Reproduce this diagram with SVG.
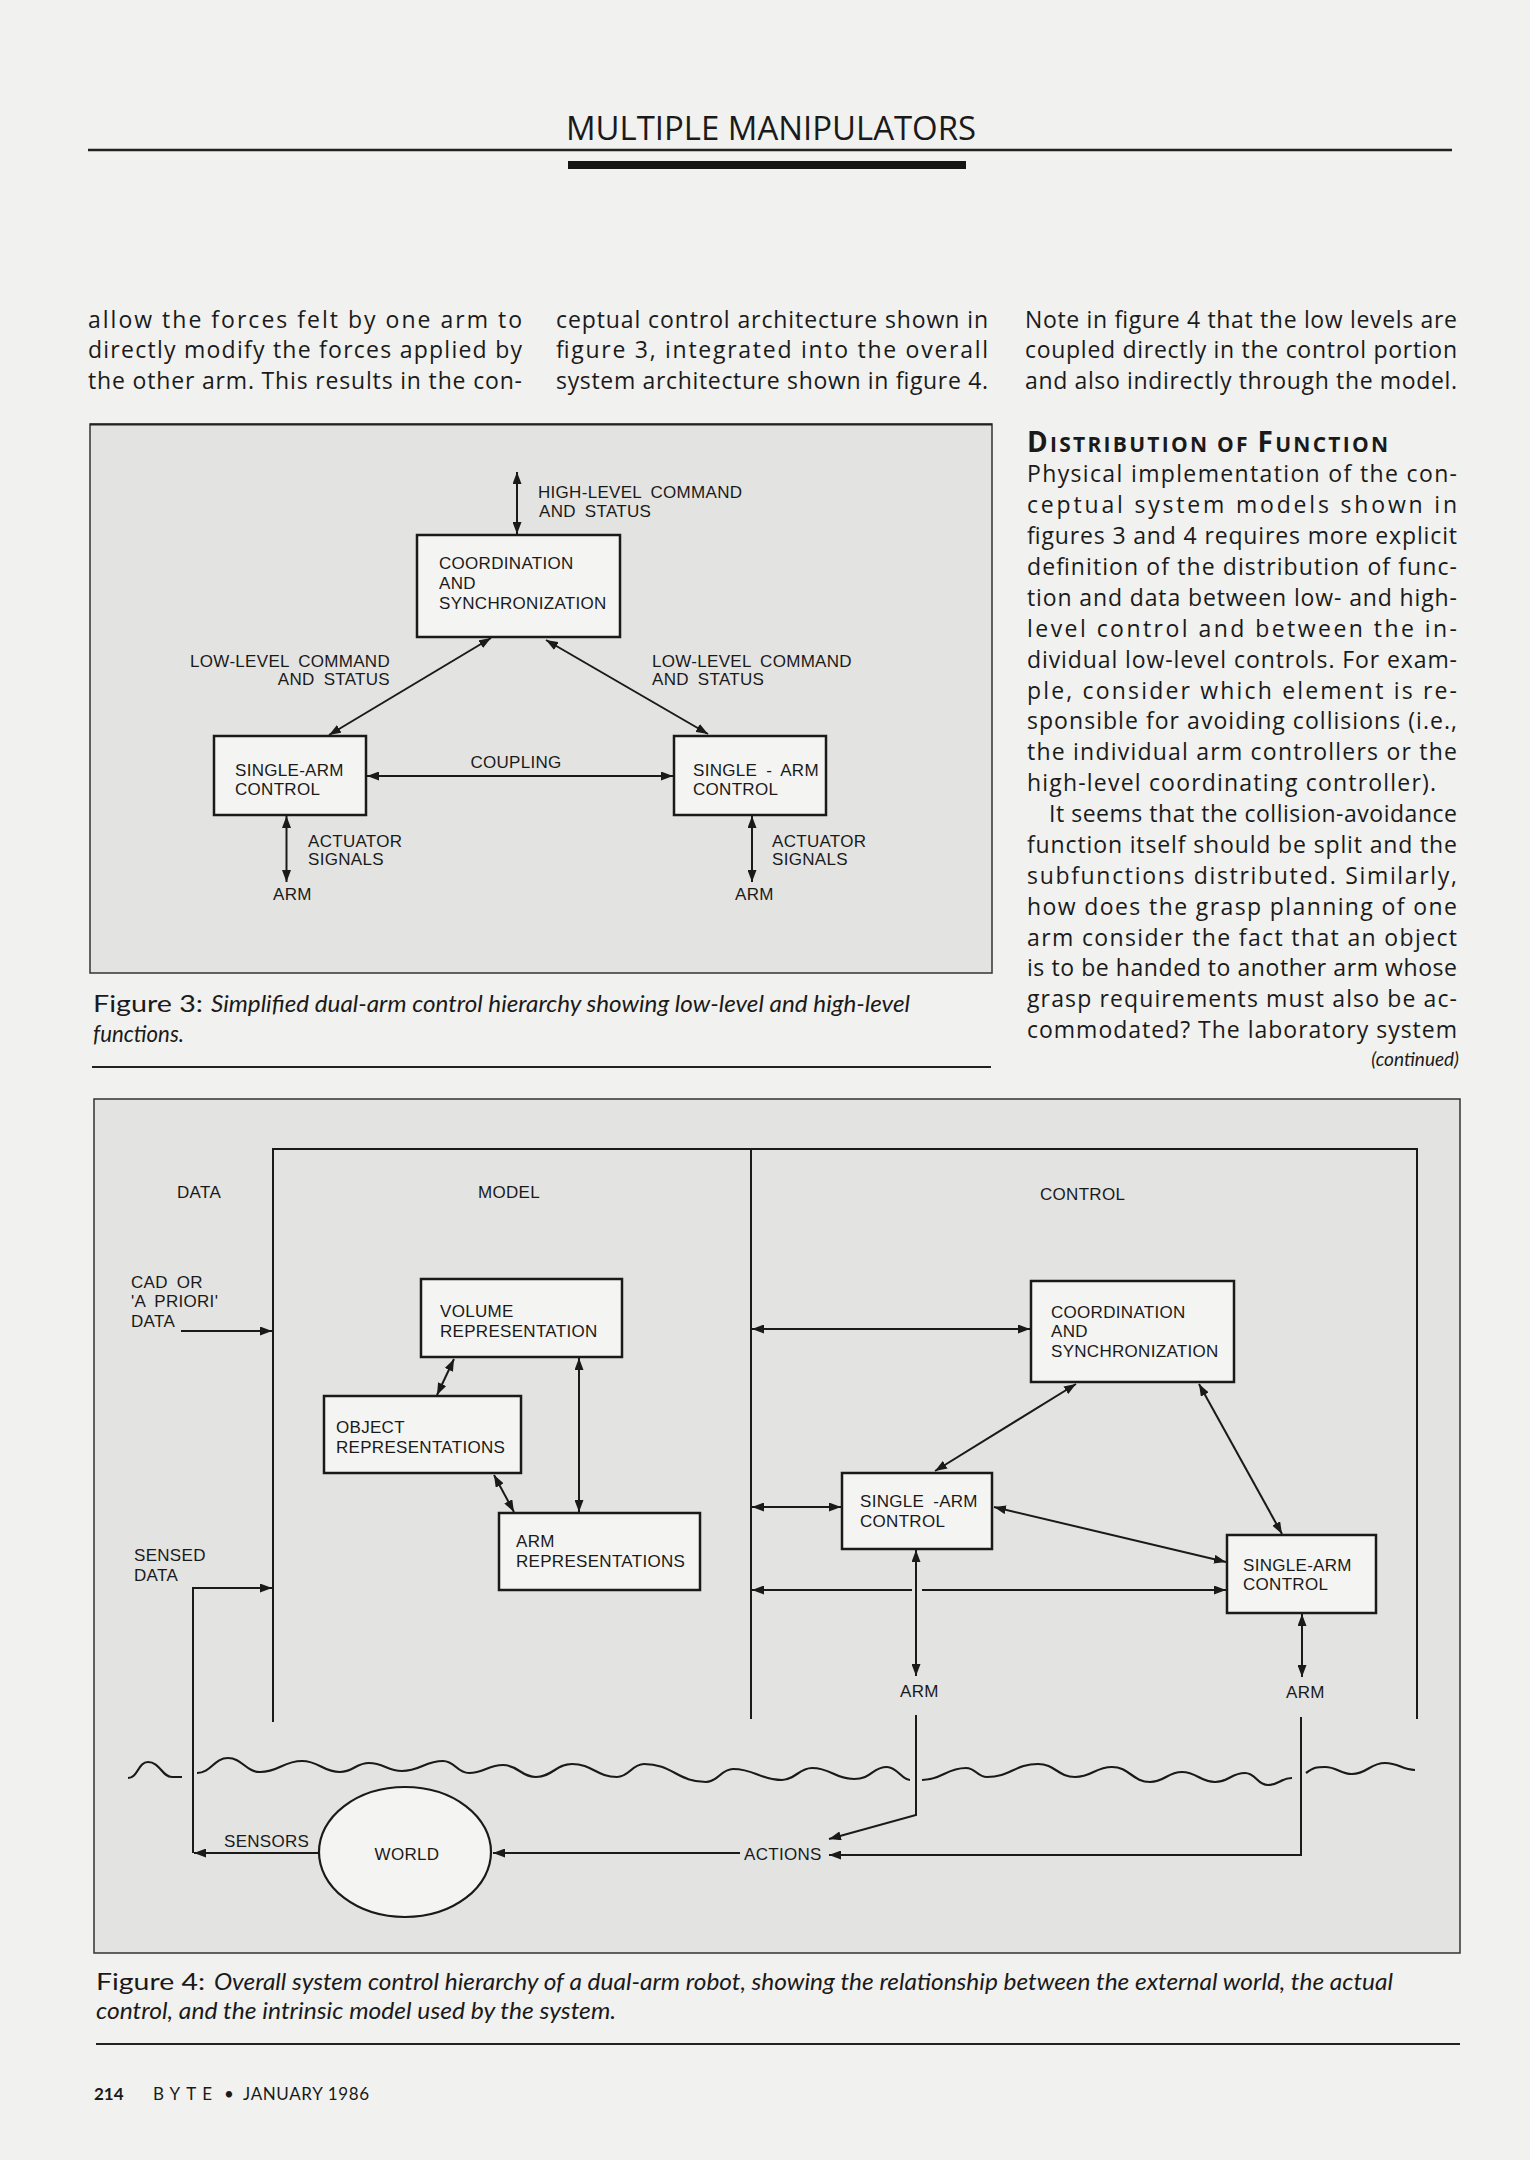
<svg xmlns="http://www.w3.org/2000/svg" width="1530" height="2160" viewBox="0 0 1530 2160">
<defs>
<marker id="ah" viewBox="0 0 12 9" refX="12" refY="4.5" markerWidth="12" markerHeight="9" markerUnits="userSpaceOnUse" orient="auto-start-reverse"><path d="M0,0 L12,4.5 L0,9 z" fill="#1a1a1a"/></marker>
</defs>
<style>
.body{font-family:"Open Sans","Liberation Sans",sans-serif;font-size:23px;fill:#1a1a1a}
.head{font-family:"Open Sans","Liberation Sans",sans-serif;font-weight:bold;fill:#1a1a1a}
.capr{font-family:Lato,"Open Sans",sans-serif;font-size:23px;fill:#1a1a1a}
.capi{font-family:Lato,"Open Sans",sans-serif;font-size:23px;font-style:italic;fill:#1a1a1a}
.foot{font-family:Lato,"Open Sans",sans-serif;font-size:17px;fill:#1a1a1a}
.lbl{font-family:"Liberation Sans",Arial,sans-serif;font-size:17px;letter-spacing:0.3px;word-spacing:4px;fill:#1a1a1a}
.fig{fill:#e3e3e1;stroke:#333;stroke-width:1.5}
.box{fill:#f4f4f2;stroke:#1a1a1a;stroke-width:2.5}
.ln{fill:none;stroke:#1a1a1a;stroke-width:2}
.da{fill:none;stroke:#1a1a1a;stroke-width:2;marker-start:url(#ah);marker-end:url(#ah)}
.sa{fill:none;stroke:#1a1a1a;stroke-width:2;marker-end:url(#ah)}
.wave{fill:none;stroke:#1a1a1a;stroke-width:2.2}
.rule{stroke:#222}
</style>
<rect width="1530" height="2160" fill="#f1f1ef"/>

<!-- page header -->
<text x="566" y="140" class="body" style="font-size:32px" textLength="410" lengthAdjust="spacingAndGlyphs">MULTIPLE MANIPULATORS</text>
<line x1="88" y1="150" x2="1452" y2="150" class="rule" style="stroke-width:2.5px"/>
<rect x="568" y="161" width="398" height="8" fill="#151515"/>

<!-- top columns -->
<text x="88" y="328" class="body" textLength="434">allow the forces felt by one arm to</text>
<text x="88" y="358" class="body" textLength="434">directly modify the forces applied by</text>
<text x="88" y="389" class="body" textLength="434">the other arm. This results in the con-</text>
<text x="556" y="328" class="body" textLength="432">ceptual control architecture shown in</text>
<text x="556" y="358" class="body" textLength="432">figure 3, integrated into the overall</text>
<text x="556" y="389" class="body" textLength="432">system architecture shown in figure 4.</text>
<text x="1025" y="328" class="body" textLength="432">Note in figure 4 that the low levels are</text>
<text x="1025" y="358" class="body" textLength="432">coupled directly in the control portion</text>
<text x="1025" y="389" class="body" textLength="432">and also indirectly through the model.</text>

<!-- right column -->
<text x="1027" y="452" class="head" textLength="361"><tspan style="font-size:28px">D</tspan><tspan style="font-size:21px">ISTRIBUTION OF </tspan><tspan style="font-size:28px">F</tspan><tspan style="font-size:21px">UNCTION</tspan></text>
<text x="1027" y="482" class="body" textLength="430">Physical implementation of the con-</text>
<text x="1027" y="513" class="body" textLength="430">ceptual system models shown in</text>
<text x="1027" y="544" class="body" textLength="430">figures 3 and 4 requires more explicit</text>
<text x="1027" y="575" class="body" textLength="430">definition of the distribution of func-</text>
<text x="1027" y="606" class="body" textLength="430">tion and data between low- and high-</text>
<text x="1027" y="637" class="body" textLength="430">level control and between the in-</text>
<text x="1027" y="668" class="body" textLength="430">dividual low-level controls. For exam-</text>
<text x="1027" y="699" class="body" textLength="430">ple, consider which element is re-</text>
<text x="1027" y="729" class="body" textLength="430">sponsible for avoiding collisions (i.e.,</text>
<text x="1027" y="760" class="body" textLength="430">the individual arm controllers or the</text>
<text x="1027" y="791" class="body" textLength="409">high-level coordinating controller).</text>
<text x="1049" y="822" class="body" textLength="408">It seems that the collision-avoidance</text>
<text x="1027" y="853" class="body" textLength="430">function itself should be split and the</text>
<text x="1027" y="884" class="body" textLength="430">subfunctions distributed. Similarly,</text>
<text x="1027" y="915" class="body" textLength="430">how does the grasp planning of one</text>
<text x="1027" y="946" class="body" textLength="430">arm consider the fact that an object</text>
<text x="1027" y="976" class="body" textLength="430">is to be handed to another arm whose</text>
<text x="1027" y="1007" class="body" textLength="430">grasp requirements must also be ac-</text>
<text x="1027" y="1038" class="body" textLength="430">commodated? The laboratory system</text>
<text x="1459" y="1066" class="capi" style="font-size:19px" text-anchor="end">(continued)</text>

<!-- FIGURE 3 -->
<rect x="90" y="424" width="902" height="549" class="fig"/>
<line x1="90" y1="424.5" x2="992" y2="424.5" class="rule" style="stroke-width:2px"/>
<g id="f3-coord">
<rect x="417" y="535" width="203" height="102" class="box"/>
<text x="439" y="569" class="lbl">COORDINATION</text>
<text x="439" y="589" class="lbl">AND</text>
<text x="439" y="609" class="lbl">SYNCHRONIZATION</text>
</g>
<g id="f3-sac-left">
<rect x="214" y="736" width="152" height="79" class="box"/>
<text x="235" y="776" class="lbl">SINGLE-ARM</text>
<text x="235" y="795" class="lbl">CONTROL</text>
</g>
<g id="f3-sac-right">
<rect x="674" y="736" width="152" height="79" class="box"/>
<text x="693" y="776" class="lbl">SINGLE - ARM</text>
<text x="693" y="795" class="lbl">CONTROL</text>
</g>
<g id="f3-labels">
<text x="538" y="498" class="lbl">HIGH-LEVEL COMMAND</text>
<text x="539" y="517" class="lbl">AND STATUS</text>
<text x="390" y="667" class="lbl" text-anchor="end">LOW-LEVEL COMMAND</text>
<text x="390" y="685" class="lbl" text-anchor="end">AND STATUS</text>
<text x="652" y="667" class="lbl">LOW-LEVEL COMMAND</text>
<text x="652" y="685" class="lbl">AND STATUS</text>
<text x="516" y="768" class="lbl" text-anchor="middle">COUPLING</text>
<text x="308" y="847" class="lbl">ACTUATOR</text>
<text x="308" y="865" class="lbl">SIGNALS</text>
<text x="273" y="900" class="lbl">ARM</text>
<text x="772" y="847" class="lbl">ACTUATOR</text>
<text x="772" y="865" class="lbl">SIGNALS</text>
<text x="735" y="900" class="lbl">ARM</text>
</g>
<g id="f3-connectors">
<line x1="517" y1="472" x2="517" y2="534" class="da"/>
<line x1="491" y1="638" x2="329" y2="735" class="da"/>
<line x1="546" y1="640" x2="708" y2="734" class="da"/>
<line x1="367" y1="776" x2="673" y2="776" class="da"/>
<line x1="286.5" y1="816" x2="286.5" y2="882" class="da"/>
<line x1="752" y1="816" x2="752" y2="882" class="da"/>
</g>
<text x="93" y="1012" class="capr" textLength="110" lengthAdjust="spacingAndGlyphs">Figure 3:</text>
<text x="211" y="1012" class="capi" textLength="699" lengthAdjust="spacingAndGlyphs">Simplified dual-arm control hierarchy showing low-level and high-level</text>
<text x="93" y="1042" class="capi" textLength="91" lengthAdjust="spacingAndGlyphs">functions.</text>
<line x1="92" y1="1067" x2="991" y2="1067" class="rule" style="stroke-width:2px"/>

<!-- FIGURE 4 -->
<rect x="94" y="1099" width="1366" height="854" class="fig"/>
<g id="f4-regions">
<path d="M273,1722 L273,1149 L1417,1149 L1417,1719" class="ln"/>
<line x1="751" y1="1149" x2="751" y2="1719" class="ln"/>
<text x="177" y="1198" class="lbl">DATA</text>
<text x="478" y="1198" class="lbl">MODEL</text>
<text x="1040" y="1200" class="lbl">CONTROL</text>
<text x="131" y="1288" class="lbl">CAD  OR</text>
<text x="131" y="1307" class="lbl">'A PRIORI'</text>
<text x="131" y="1327" class="lbl">DATA</text>
<text x="134" y="1561" class="lbl">SENSED</text>
<text x="134" y="1581" class="lbl">DATA</text>
</g>
<g id="f4-volume">
<rect x="421" y="1279" width="201" height="78" class="box"/>
<text x="440" y="1317" class="lbl">VOLUME</text>
<text x="440" y="1337" class="lbl">REPRESENTATION</text>
</g>
<g id="f4-object">
<rect x="324" y="1396" width="197" height="77" class="box"/>
<text x="336" y="1433" class="lbl">OBJECT</text>
<text x="336" y="1453" class="lbl">REPRESENTATIONS</text>
</g>
<g id="f4-armrep">
<rect x="499" y="1513" width="201" height="77" class="box"/>
<text x="516" y="1547" class="lbl">ARM</text>
<text x="516" y="1567" class="lbl">REPRESENTATIONS</text>
</g>
<g id="f4-coord">
<rect x="1031" y="1281" width="203" height="101" class="box"/>
<text x="1051" y="1318" class="lbl">COORDINATION</text>
<text x="1051" y="1337" class="lbl">AND</text>
<text x="1051" y="1357" class="lbl">SYNCHRONIZATION</text>
</g>
<g id="f4-sac1">
<rect x="842" y="1473" width="150" height="76" class="box"/>
<text x="860" y="1507" class="lbl">SINGLE -ARM</text>
<text x="860" y="1527" class="lbl">CONTROL</text>
</g>
<g id="f4-sac2">
<rect x="1227" y="1535" width="149" height="78" class="box"/>
<text x="1243" y="1571" class="lbl">SINGLE-ARM</text>
<text x="1243" y="1590" class="lbl">CONTROL</text>
</g>
<g id="f4-arm1"><text x="900" y="1697" class="lbl">ARM</text></g>
<g id="f4-arm2"><text x="1286" y="1698" class="lbl">ARM</text></g>
<g id="f4-world">
<ellipse cx="405" cy="1852" rx="86" ry="65" fill="#f4f4f2" stroke="#1a1a1a" stroke-width="2.2"/>
<text x="407" y="1860" class="lbl" text-anchor="middle">WORLD</text>
</g>
<g id="f4-edge-labels">
<text x="224" y="1847" class="lbl">SENSORS</text>
<text x="744" y="1860" class="lbl">ACTIONS</text>
</g>
<g id="f4-connectors">
<line x1="181" y1="1331" x2="272" y2="1331" class="sa"/>
<line x1="454" y1="1359" x2="437" y2="1395" class="da"/>
<line x1="494" y1="1475" x2="514" y2="1512" class="da"/>
<line x1="579" y1="1358" x2="579" y2="1512" class="da"/>
<line x1="752" y1="1329" x2="1030" y2="1329" class="da"/>
<line x1="752" y1="1507" x2="841" y2="1507" class="da"/>
<line x1="912" y1="1590" x2="752" y2="1590" class="sa"/>
<line x1="922" y1="1590" x2="1226" y2="1590" class="sa"/>
<line x1="1076" y1="1384" x2="935" y2="1471" class="da"/>
<line x1="1199" y1="1384" x2="1282" y2="1534" class="da"/>
<line x1="994" y1="1507" x2="1226" y2="1562" class="da"/>
<line x1="916" y1="1550" x2="916" y2="1676" class="da"/>
<line x1="1302" y1="1614" x2="1302" y2="1677" class="da"/>
<polyline points="916,1715 916,1815 829,1839" class="sa"/>
<polyline points="1301,1717 1301,1855 829,1855" class="sa"/>
<line x1="740" y1="1853" x2="493" y2="1853" class="sa"/>
<line x1="319" y1="1853" x2="194" y2="1853" class="sa"/>
<polyline points="193,1853 193,1588 272,1588" class="sa"/>
</g>
<g id="f4-wave">
<path class="wave" d="M128,1778 C138,1778 138,1762 148,1762 C160,1762 162,1777 172,1777 L182,1777"/>
<path class="wave" d="M197,1773 C211,1773 214,1758 228,1758 C242,1758 246,1772 260,1772 C279,1772 283,1761 302,1761 C319,1761 323,1772 340,1772 C353,1772 356,1763 369,1763 C384,1763 387,1771 402,1771 C420,1771 425,1761 443,1761 C455,1761 457,1773 469,1773 C484,1773 488,1765 503,1765 C518,1765 521,1777 536,1777 C552,1777 556,1764 572,1764 C592,1764 597,1777 617,1777 C629,1777 632,1764 644,1764 C672,1764 678,1782 706,1782 C718,1782 721,1769 733,1769 C755,1769 760,1780 782,1780 C795,1780 799,1768 812,1768 C831,1768 835,1779 854,1779 C872,1779 872,1767 887,1767 C897,1767 902,1780 910,1780"/>
<path class="wave" d="M922,1780 C942,1780 946,1768 966,1768 C976,1768 977,1777 987,1777 C1010,1777 1015,1764 1038,1764 C1055,1764 1058,1777 1075,1777 C1092,1777 1095,1767 1112,1767 C1129,1767 1133,1782 1150,1782 C1165,1782 1167,1772 1182,1772 C1197,1772 1200,1782 1215,1782 C1229,1782 1231,1773 1245,1773 C1256,1773 1257,1785 1268,1785 C1279,1785 1281,1778 1292,1778"/>
<path class="wave" d="M1306,1773 C1314,1767 1317,1767 1325,1767 C1337,1767 1340,1774 1352,1774 C1367,1774 1370,1763 1385,1763 C1399,1763 1402,1770 1415,1770"/>
</g>
<text x="96" y="1990" class="capr" textLength="109" lengthAdjust="spacingAndGlyphs">Figure 4:</text>
<text x="214" y="1990" class="capi" textLength="1179" lengthAdjust="spacingAndGlyphs">Overall system control hierarchy of a dual-arm robot, showing the relationship between the external world, the actual</text>
<text x="96" y="2019" class="capi" textLength="520" lengthAdjust="spacingAndGlyphs">control, and the intrinsic model used by the system.</text>
<line x1="96" y1="2044" x2="1460" y2="2044" class="rule" style="stroke-width:2px"/>

<!-- footer -->
<text x="94" y="2100" class="foot" style="font-weight:bold">214</text>
<text x="153" y="2100" class="foot" style="letter-spacing:6px">BYTE</text>
<text x="224" y="2100" class="foot">•</text>
<text x="243" y="2100" class="foot" textLength="126">JANUARY 1986</text>
</svg>
